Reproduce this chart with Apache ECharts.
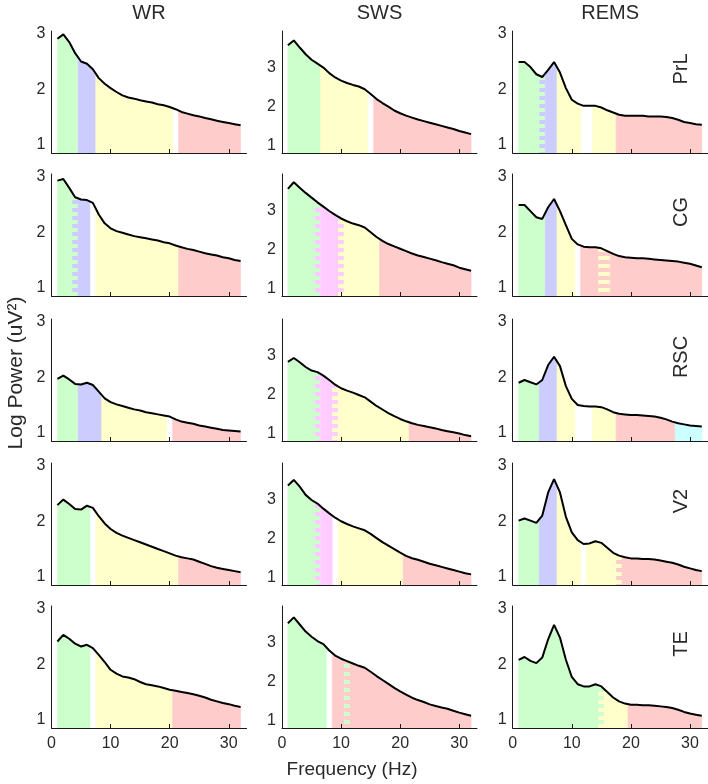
<!DOCTYPE html>
<html><head><meta charset="utf-8">
<script src="https://cdn.jsdelivr.net/npm/echarts@6/dist/echarts.min.js"></script>
<style>html,body{margin:0;padding:0;background:#fff}#c{width:708px;height:784px}</style>
</head><body><div id="c"></div>
<script>
// ---------------- DATA ----------------
const FREQ = [1,2,3,4,5,6,7,8,9,10,11,12,13,14,15,16,17,18,19,20,21,22,23,24,25,26,27,28,29,30,31,32];
const STATES = ['WR','SWS','REMS'];
const REGIONS = ['PrL','CG','RSC','V2','TE'];
const X_TICKS = [0,10,20,30];
const Y_TICKS = [1,2,3];

const WR_PrL = [2.91,2.99,2.85,2.65,2.50,2.46,2.36,2.20,2.10,2.02,1.95,1.89,1.85,1.83,1.80,1.78,1.76,1.73,1.71,1.68,1.64,1.59,1.56,1.53,1.51,1.48,1.46,1.43,1.41,1.39,1.37,1.35];
const WR_CG  = [2.93,2.96,2.80,2.63,2.59,2.58,2.53,2.32,2.16,2.07,2.02,1.99,1.96,1.93,1.91,1.89,1.87,1.85,1.82,1.80,1.76,1.73,1.70,1.68,1.65,1.62,1.60,1.58,1.55,1.53,1.50,1.48];
const WR_RSC = [1.97,2.03,1.96,1.88,1.87,1.90,1.86,1.74,1.62,1.55,1.51,1.48,1.45,1.42,1.40,1.37,1.35,1.33,1.31,1.29,1.24,1.20,1.18,1.16,1.13,1.11,1.09,1.07,1.05,1.04,1.03,1.02];
const WR_V2  = [2.29,2.39,2.31,2.22,2.21,2.28,2.24,2.09,1.96,1.86,1.79,1.74,1.70,1.66,1.62,1.58,1.54,1.50,1.46,1.42,1.38,1.35,1.33,1.31,1.27,1.23,1.19,1.16,1.14,1.12,1.10,1.08];
const WR_TE  = [2.41,2.53,2.46,2.37,2.32,2.35,2.29,2.17,2.04,1.90,1.83,1.78,1.76,1.73,1.68,1.64,1.62,1.60,1.57,1.54,1.52,1.50,1.48,1.46,1.43,1.40,1.36,1.33,1.30,1.28,1.25,1.23];

const SWS_PrL = [3.56,3.68,3.50,3.33,3.19,3.09,2.99,2.85,2.74,2.66,2.60,2.55,2.51,2.44,2.32,2.19,2.09,2.00,1.90,1.83,1.77,1.72,1.67,1.63,1.59,1.55,1.51,1.47,1.43,1.38,1.34,1.30];
const SWS_CG  = [3.54,3.71,3.57,3.44,3.32,3.20,3.09,2.98,2.88,2.79,2.72,2.66,2.62,2.56,2.44,2.32,2.22,2.14,2.08,2.02,1.96,1.90,1.85,1.81,1.77,1.73,1.68,1.64,1.60,1.54,1.50,1.46];
const SWS_RSC = [2.83,2.93,2.82,2.70,2.61,2.57,2.48,2.37,2.25,2.16,2.10,2.05,1.99,1.93,1.82,1.71,1.62,1.53,1.45,1.38,1.32,1.27,1.23,1.20,1.17,1.14,1.10,1.07,1.04,1.01,0.97,0.94];
const SWS_V2  = [3.35,3.49,3.32,3.11,2.98,2.89,2.76,2.64,2.53,2.44,2.37,2.31,2.26,2.21,2.12,2.01,1.91,1.82,1.73,1.64,1.56,1.50,1.46,1.41,1.36,1.32,1.28,1.24,1.20,1.16,1.12,1.09];
const SWS_TE  = [3.48,3.63,3.45,3.27,3.14,3.03,2.95,2.79,2.66,2.58,2.52,2.46,2.40,2.35,2.25,2.14,2.04,1.94,1.84,1.75,1.67,1.59,1.53,1.48,1.42,1.38,1.34,1.31,1.26,1.21,1.17,1.13];

const REMS_PrL = [2.49,2.49,2.40,2.27,2.22,2.35,2.49,2.30,2.02,1.81,1.74,1.70,1.70,1.70,1.67,1.62,1.58,1.54,1.52,1.52,1.52,1.52,1.51,1.51,1.51,1.50,1.48,1.45,1.41,1.39,1.37,1.36];
const REMS_CG  = [2.49,2.49,2.38,2.27,2.24,2.45,2.60,2.38,2.13,1.88,1.78,1.74,1.73,1.73,1.71,1.66,1.61,1.57,1.55,1.54,1.53,1.53,1.52,1.51,1.50,1.49,1.48,1.47,1.45,1.43,1.40,1.37];
const REMS_RSC = [1.90,1.95,1.91,1.87,1.95,2.22,2.37,2.20,1.84,1.61,1.50,1.48,1.47,1.47,1.46,1.42,1.37,1.34,1.33,1.32,1.32,1.31,1.30,1.29,1.27,1.24,1.20,1.17,1.15,1.13,1.12,1.11];
const REMS_V2  = [2.01,2.05,2.01,1.97,2.10,2.52,2.76,2.52,2.08,1.80,1.66,1.59,1.60,1.64,1.61,1.52,1.43,1.38,1.35,1.33,1.33,1.32,1.32,1.31,1.29,1.27,1.25,1.22,1.18,1.15,1.12,1.10];
const REMS_TE  = [2.08,2.13,2.06,2.02,2.12,2.45,2.71,2.48,2.08,1.77,1.64,1.60,1.60,1.64,1.60,1.50,1.40,1.33,1.29,1.27,1.27,1.26,1.26,1.25,1.24,1.23,1.21,1.18,1.14,1.11,1.09,1.07];

// bands: [startHz, endHz, bandKey, comb teeth bandKey (optional)]
const BANDS_WR_PrL = [[1,4.5,'G'],[4.5,7.5,'B'],[7.5,20.5,'Y'],[21.5,32,'R']];
const BANDS_WR_CG  = [[1,3.5,'G'],[3.5,4.5,'G','B'],[4.5,6.5,'B'],[7.5,21.5,'Y'],[21.5,32,'R']];
const BANDS_WR_RSC = [[1,4.5,'G'],[4.5,8.5,'B'],[8.5,19.5,'Y'],[20.5,32,'R']];
const BANDS_WR_V2  = [[1,6.5,'G'],[7.5,21.5,'Y'],[21.5,32,'R']];
const BANDS_WR_TE  = [[1,6.5,'G'],[7.5,20.5,'Y'],[20.5,32,'R']];
const BANDS_SWS_PrL = [[1,6.5,'G'],[6.5,14.5,'Y'],[15.5,32,'R']];
const BANDS_SWS_CG  = [[1,5.5,'G'],[5.5,6.5,'G','M'],[6.5,9.5,'M'],[9.5,10.5,'Y','M'],[10.5,16.5,'Y'],[16.5,32,'R']];
const BANDS_SWS_RSC = [[1,5.5,'G'],[5.5,6.5,'G','M'],[6.5,8.5,'M'],[8.5,9.5,'Y','M'],[9.5,21.5,'Y'],[21.5,32,'R']];
const BANDS_SWS_V2  = [[1,5.5,'G'],[5.5,6.5,'G','M'],[6.5,8.5,'M'],[9.5,20.5,'Y'],[20.5,32,'R']];
const BANDS_SWS_TE  = [[1,7.5,'G'],[8.5,10.5,'R'],[10.5,11.5,'R','G'],[11.5,32,'R']];
const BANDS_REMS_PrL = [[1,4.5,'G'],[4.5,5.5,'G','B'],[5.5,7.5,'B'],[7.5,11.5,'Y'],[13.5,17.5,'Y'],[17.5,32,'R']];
const BANDS_REMS_CG  = [[1,5.5,'G'],[5.5,7.5,'B'],[7.5,10.5,'Y'],[11.5,14.5,'R'],[14.5,16.5,'R','Y'],[16.5,32,'R']];
const BANDS_REMS_RSC = [[1,4.5,'G'],[4.5,7.5,'B'],[7.5,10.5,'Y'],[13.5,17.5,'Y'],[17.5,27.5,'R'],[27.5,32,'C']];
const BANDS_REMS_V2  = [[1,4.5,'G'],[4.5,7.5,'B'],[7.5,11.5,'Y'],[12.5,17.5,'Y'],[17.5,18.5,'Y','R'],[18.5,32,'R']];
const BANDS_REMS_TE  = [[1,14.5,'G'],[14.5,15.5,'Y','G'],[15.5,19.5,'Y'],[19.5,32,'R']];

// ---------------- STYLE / LAYOUT ----------------
const COLORS = {G:'#ccffcc', B:'#ccccff', Y:'#ffffcc', R:'#ffcccc', M:'#ffccff', C:'#ccffff'};
const FONT = "'Liberation Sans', Arial, Helvetica, sans-serif";
const TXT = '#2a2a2a';
const COL_LEFT = [51.5, 282, 512.7];
const COL_W = 195;
const ROW_TOP = [31, 174, 319, 463, 606];
const ROW_H = 122;
const YRANGE = {WR:[0.85,3.05], SWS:[0.82,3.92], REMS:[0.85,3.05]};
const XMAX = 33;

const CURVES = {
  WR:{PrL:WR_PrL, CG:WR_CG, RSC:WR_RSC, V2:WR_V2, TE:WR_TE},
  SWS:{PrL:SWS_PrL, CG:SWS_CG, RSC:SWS_RSC, V2:SWS_V2, TE:SWS_TE},
  REMS:{PrL:REMS_PrL, CG:REMS_CG, RSC:REMS_RSC, V2:REMS_V2, TE:REMS_TE}
};
const BANDS = {
  WR:{PrL:BANDS_WR_PrL, CG:BANDS_WR_CG, RSC:BANDS_WR_RSC, V2:BANDS_WR_V2, TE:BANDS_WR_TE},
  SWS:{PrL:BANDS_SWS_PrL, CG:BANDS_SWS_CG, RSC:BANDS_SWS_RSC, V2:BANDS_SWS_V2, TE:BANDS_SWS_TE},
  REMS:{PrL:BANDS_REMS_PrL, CG:BANDS_REMS_CG, RSC:BANDS_REMS_RSC, V2:BANDS_REMS_V2, TE:BANDS_REMS_TE}
};

function combPattern(base, teeth) {
  const cv = document.createElement('canvas');
  cv.width = 4; cv.height = 8;
  const ctx = cv.getContext('2d');
  ctx.fillStyle = base; ctx.fillRect(0,0,4,8);
  ctx.fillStyle = teeth; ctx.fillRect(0,0,4,4);
  return {image: cv, repeat: 'repeat'};
}

function valueAt(curve, x) {
  if (x <= FREQ[0]) return curve[0];
  for (let i = 0; i < FREQ.length - 1; i++) {
    if (x <= FREQ[i+1]) {
      const t = (x - FREQ[i]) / (FREQ[i+1] - FREQ[i]);
      return curve[i] + t * (curve[i+1] - curve[i]);
    }
  }
  return curve[curve.length - 1];
}

function makeRender(curve, bands, ymin) {
  return function (params, api) {
    const b = bands[params.dataIndex];
    const x0 = b[0], x1 = b[1];
    const pts = [api.coord([x0, ymin]), api.coord([x0, valueAt(curve, x0)])];
    for (let i = 0; i < FREQ.length; i++) {
      if (FREQ[i] > x0 && FREQ[i] < x1) pts.push(api.coord([FREQ[i], curve[i]]));
    }
    pts.push(api.coord([x1, valueAt(curve, x1)]));
    pts.push(api.coord([x1, ymin]));
    const fill = b[3] ? combPattern(COLORS[b[2]], COLORS[b[3]]) : COLORS[b[2]];
    return {
      type: 'polygon', silent: true,
      shape: {points: pts},
      style: b[3] ? {fill: fill} : {fill: fill, stroke: fill, lineWidth: 0.6}
    };
  };
}

// ---------------- BUILD ----------------
const grids = [], xAxes = [], yAxes = [], series = [], graphics = [];
let idx = 0;
REGIONS.forEach((reg, r) => {
  STATES.forEach((st, c) => {
    const yr = YRANGE[st];
    grids.push({left: COL_LEFT[c], top: ROW_TOP[r], width: COL_W, height: ROW_H});
    xAxes.push({
      type: 'value', gridIndex: idx, min: 0, max: XMAX, z: 10,
      axisLine: {show: true, onZero: false, lineStyle: {color: '#1a1a1a', width: 1}},
      axisTick: {show: true, inside: true, length: 4, customValues: X_TICKS, lineStyle: {color: '#1a1a1a'}},
      axisLabel: {show: r === REGIONS.length - 1, customValues: X_TICKS, fontSize: 16, color: TXT, fontFamily: FONT, margin: 8},
      splitLine: {show: false}
    });
    yAxes.push({
      type: 'value', gridIndex: idx, min: yr[0], max: yr[1], z: 10,
      axisLine: {show: true, onZero: false, lineStyle: {color: '#1a1a1a', width: 1}},
      axisTick: {show: false},
      axisLabel: {show: true, customValues: Y_TICKS, fontSize: 16, color: TXT, fontFamily: FONT, margin: 6},
      splitLine: {show: false}
    });
    const curve = CURVES[st][reg];
    const bands = BANDS[st][reg];
    series.push({
      type: 'custom', xAxisIndex: idx, yAxisIndex: idx, z: 1,
      data: bands.map(b => [b[0], b[1]]),
      encode: {x: [0, 1]},
      renderItem: makeRender(curve, bands, yr[0])
    });
    series.push({
      type: 'line', xAxisIndex: idx, yAxisIndex: idx, z: 3,
      data: FREQ.map((f, i) => [f, curve[i]]),
      showSymbol: false, symbol: 'none', silent: true,
      lineStyle: {color: '#000', width: 2}
    });
    idx++;
  });
});

STATES.forEach((st, c) => {
  graphics.push({type: 'text', x: COL_LEFT[c] + COL_W / 2, y: 13,
    style: {text: st, font: '20px ' + FONT, fill: TXT, align: 'center', verticalAlign: 'middle', textAlign: 'center', textVerticalAlign: 'middle'}});
});
REGIONS.forEach((reg, r) => {
  graphics.push({type: 'text', x: 681, y: ROW_TOP[r] + 38, rotation: Math.PI / 2,
    style: {text: reg, font: '20px ' + FONT, fill: TXT, align: 'center', verticalAlign: 'middle', textAlign: 'center', textVerticalAlign: 'middle'}});
});
graphics.push({type: 'text', x: 16, y: 373, rotation: Math.PI / 2,
  style: {text: 'Log Power (uV²)', font: '21px ' + FONT, fill: TXT, align: 'center', verticalAlign: 'middle', textAlign: 'center', textVerticalAlign: 'middle'}});
graphics.push({type: 'text', x: 352, y: 770,
  style: {text: 'Frequency (Hz)', font: '19px ' + FONT, fill: TXT, align: 'center', verticalAlign: 'middle', textAlign: 'center', textVerticalAlign: 'middle'}});

const chart = echarts.init(document.getElementById('c'), null, {renderer: 'canvas'});
chart.setOption({
  animation: false,
  backgroundColor: '#ffffff',
  grid: grids, xAxis: xAxes, yAxis: yAxes, series: series,
  graphic: {elements: graphics}
});
</script>
</body></html>
